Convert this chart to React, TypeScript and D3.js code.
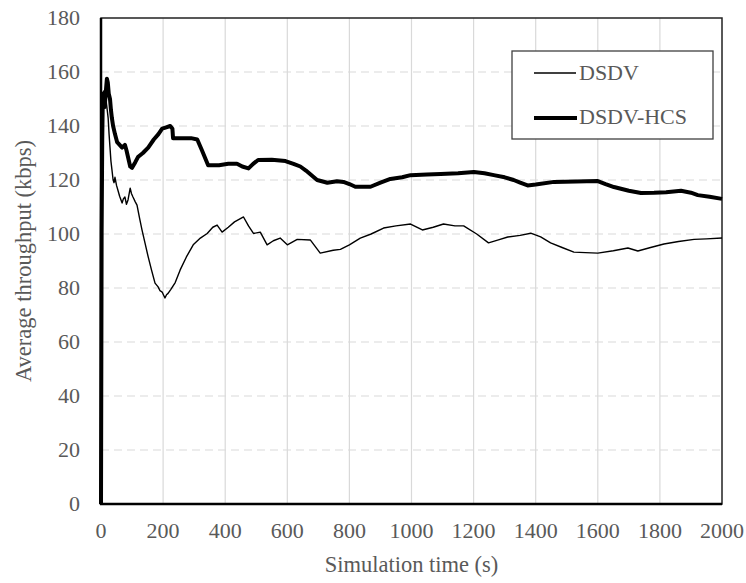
import React, { useEffect } from "react";
import * as d3 from "d3";

// DSDV (thin line): simulation time (s) vs average throughput (kbps)
const dsdvTime = [
  0, 2, 4, 6, 9, 12, 16, 20, 23, 26, 29, 32, 35, 39, 42, 45, 50, 55, 60, 68, 72, 77, 82, 87, 94, 98,
  103, 110, 116, 124, 132, 142, 152, 163, 174, 184, 190, 197, 201, 206, 211, 216, 225, 239, 255, 275,
  297, 320, 342, 360, 374, 390, 410, 430, 459, 475, 491, 513, 535, 555, 577, 600, 632, 674, 706, 748,
  771, 800, 835, 870, 910, 950, 997, 1035, 1070, 1103, 1140, 1168, 1210, 1248, 1280, 1310, 1350, 1384,
  1416, 1448, 1485, 1523, 1560, 1600, 1650, 1697, 1729, 1770, 1813, 1860, 1910, 1950, 2000,
];
const dsdvRate = [
  0, 95, 135, 150, 153, 148, 150, 146, 143, 137, 132, 127, 124, 120, 119, 121, 118, 116, 114, 111.5,
  113, 113.7, 111, 112.6, 117, 115, 113.7, 112, 110.7, 106, 101.5, 96.5, 91.5, 86.5, 81.8, 80.4, 79,
  78.5, 77.5, 76.3, 77.5, 78, 79.5, 82, 86.7, 91.5, 96, 98.5, 100.2, 102.5, 103.3, 100.7, 102.5, 104.5,
  106.3, 103, 100.2, 100.7, 96, 97.5, 98.5, 96, 98, 97.8, 92.9, 94, 94.3, 96, 98.5, 100, 102.2, 103,
  103.7, 101.5, 102.5, 103.7, 103, 103, 100, 96.7, 97.8, 98.9, 99.5, 100.3, 98.9, 96.7, 95, 93.3, 93.1,
  92.9, 93.8, 94.8, 93.7, 95, 96.3, 97.2, 98, 98.2, 98.5,
];

// DSDV-HCS (thick line)
const hcsTime = [
  0, 2, 4, 6, 9, 12, 15, 19, 22, 25, 29, 32, 35, 39, 45, 52, 60, 68, 77, 82, 87, 94, 100, 110, 119, 135,
  152, 170, 185, 197, 210, 223, 230, 232, 260, 290, 310, 325, 345, 380, 410, 438, 455, 475, 490, 506,
  550, 594, 620, 642, 660, 696, 729, 760, 781, 800, 819, 868, 900, 932, 970, 997, 1050, 1094, 1150,
  1201, 1235, 1265, 1300, 1329, 1350, 1374, 1400, 1459, 1530, 1600, 1625, 1652, 1700, 1739, 1781, 1820,
  1868, 1900, 1922, 1960, 2000,
];
const hcsRate = [
  0, 100, 135, 152, 149, 147, 152, 157.5, 156, 152, 150, 146, 143, 140, 137, 134, 133, 132, 133, 131,
  128.5, 125, 124.5, 126.5, 128.5, 130, 132, 135, 137, 139, 139.5, 140, 139, 135.5, 135.5, 135.5, 135,
  131, 125.5, 125.5, 126, 126, 125, 124.3, 126, 127.4, 127.5, 127, 126, 125, 123.5, 120, 119, 119.5,
  119.3, 118.5, 117.5, 117.5, 119, 120.4, 121, 121.8, 122, 122.2, 122.5, 123, 122.5, 121.8, 121, 120,
  119, 118, 118.3, 119.3, 119.4, 119.6, 118.5, 117.4, 116, 115.2, 115.3, 115.5, 116, 115.3, 114.4,
  113.8, 113,
];

const xTicks = [0, 200, 400, 600, 800, 1000, 1200, 1400, 1600, 1800, 2000];
const yTicks = [0, 20, 40, 60, 80, 100, 120, 140, 160, 180];
const seriesNames = ["DSDV", "DSDV-HCS"];

const W = 746;
const H = 583;
const m = { left: 101, right: 24, top: 18, bottom: 79 };
const font = "'Liberation Serif', 'DejaVu Serif', serif";
const textColor = "#595959";
const ts = { fontFamily: font };

const App = () => {
  useEffect(() => {
    document.body.style.margin = "0";
  }, []);

  const x = d3.scaleLinear().domain([0, 2000]).range([m.left, W - m.right]);
  const y = d3.scaleLinear().domain([0, 180]).range([H - m.bottom, m.top]);

  const line = d3
    .line<[number, number]>()
    .x((d) => x(d[0]))
    .y((d) => y(d[1]));

  const dsdv = dsdvTime.map((t, i) => [t, dsdvRate[i]] as [number, number]);
  const hcs = hcsTime.map((t, i) => [t, hcsRate[i]] as [number, number]);

  const x0 = x(0);
  const x1 = x(2000);
  const y0 = y(0);
  const y1 = y(180);

  // legend box
  const lg = { x: 512, y: 51, w: 201, h: 88 };

  return (
    <svg width={W} height={H} style={{ display: "block", background: "#fff" }}>
      {/* vertical grid */}
      {xTicks.slice(1, -1).map((t) => (
        <line key={"vx" + t} x1={x(t)} x2={x(t)} y1={y1} y2={y0} stroke="#d9d9d9" strokeWidth={1.2} />
      ))}
      {/* horizontal dashed grid */}
      {yTicks.slice(1, -1).map((v) => (
        <line
          key={"hy" + v}
          x1={x0}
          x2={x1}
          y1={y(v)}
          y2={y(v)}
          stroke="#d9d9d9"
          strokeWidth={1.2}
          strokeDasharray="8,5"
        />
      ))}
      {/* frame */}
      <rect x={x0} y={y1} width={x1 - x0} height={y0 - y1} fill="none" stroke="#222" strokeWidth={1.5} />

      {/* series */}
      <path d={line(dsdv) || ""} fill="none" stroke="#000" strokeWidth={1.4} strokeLinejoin="round" />
      <path d={line(hcs) || ""} fill="none" stroke="#000" strokeWidth={4} strokeLinejoin="round" />

      {/* axes lines */}
      <line x1={x0} x2={x0} y1={y1} y2={y0 + 1} stroke="#000" strokeWidth={2.5} />
      <line x1={x0 - 1} x2={x1} y1={y0} y2={y0} stroke="#000" strokeWidth={2.5} />

      {/* tick labels */}
      {yTicks.map((v) => (
        <text key={"yt" + v} x={80} y={y(v) + 7} textAnchor="end" fontSize={22} fill={textColor} style={ts}>
          {v}
        </text>
      ))}
      {xTicks.map((t) => (
        <text key={"xt" + t} x={x(t)} y={538} textAnchor="middle" fontSize={22} fill={textColor} style={ts}>
          {t}
        </text>
      ))}

      {/* axis titles */}
      <text x={(x0 + x1) / 2} y={572} textAnchor="middle" fontSize={22.5} fill={textColor} style={ts}>
        Simulation time (s)
      </text>
      <text
        transform={`translate(31,${(y0 + y1) / 2}) rotate(-90)`}
        textAnchor="middle"
        fontSize={22.5}
        fill={textColor}
        style={ts}
      >
        Average throughput (kbps)
      </text>

      {/* legend */}
      <rect x={lg.x} y={lg.y} width={lg.w} height={lg.h} fill="#fff" stroke="#404040" strokeWidth={1.3} />
      <line x1={534} x2={576} y1={73} y2={73} stroke="#000" strokeWidth={1.3} />
      <line x1={534} x2={577} y1={118} y2={118} stroke="#000" strokeWidth={4} />
      <text x={579} y={80} fontSize={22} fill={textColor} style={ts}>
        {seriesNames[0]}
      </text>
      <text x={579} y={124} fontSize={22} fill={textColor} style={ts}>
        {seriesNames[1]}
      </text>
    </svg>
  );
};

export default App;
